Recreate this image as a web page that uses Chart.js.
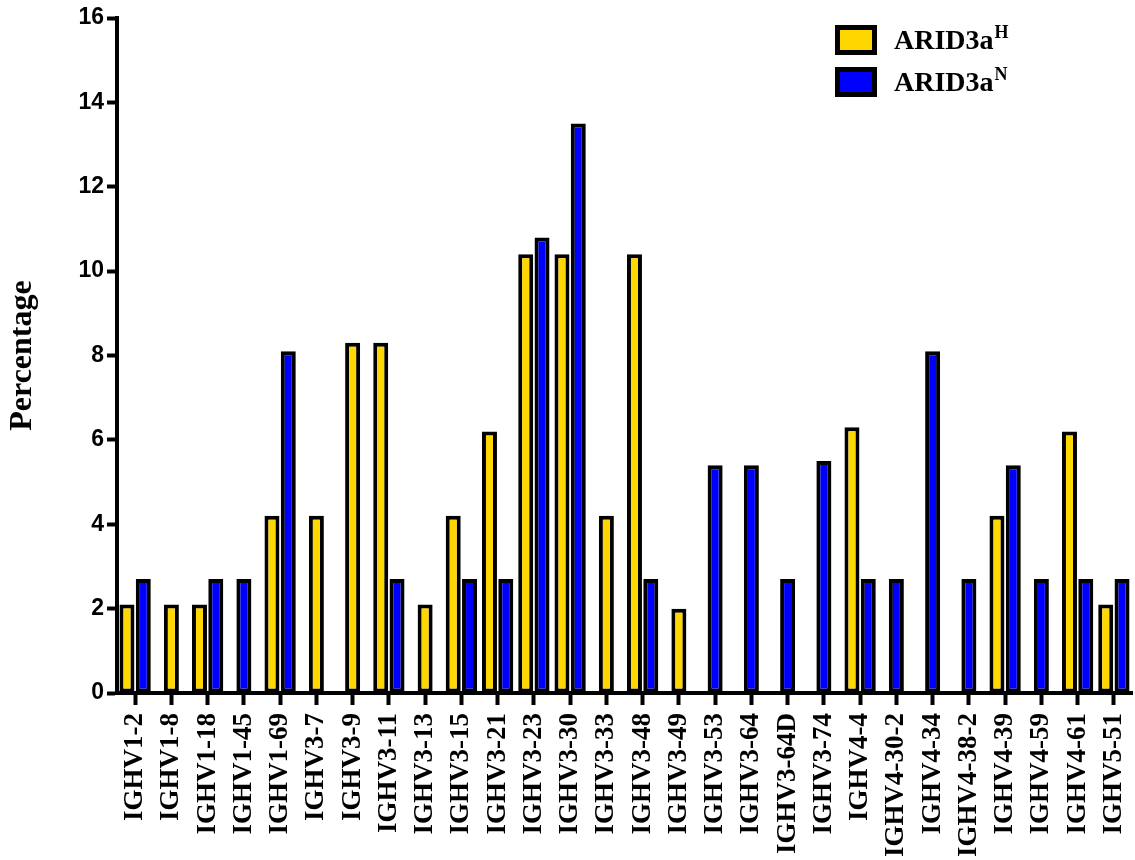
<!DOCTYPE html>
<html>
<head>
<meta charset="utf-8">
<title>IGHV usage</title>
<script src="https://cdn.jsdelivr.net/npm/chart.js@4"></script>
<style>
  html, body { margin: 0; padding: 0; background: #fff; }
  #wrap { width: 1135px; height: 860px; }
</style>
</head>
<body>
<div id="wrap"><canvas id="chart" width="1135" height="860"></canvas></div>
<script>
// gene segments on the x axis
const genes = [
  "IGHV1-2", "IGHV1-8", "IGHV1-18", "IGHV1-45", "IGHV1-69",
  "IGHV3-7", "IGHV3-9", "IGHV3-11", "IGHV3-13", "IGHV3-15",
  "IGHV3-21", "IGHV3-23", "IGHV3-30", "IGHV3-33", "IGHV3-48",
  "IGHV3-49", "IGHV3-53", "IGHV3-64", "IGHV3-64D", "IGHV3-74",
  "IGHV4-4", "IGHV4-30-2", "IGHV4-34", "IGHV4-38-2", "IGHV4-39",
  "IGHV4-59", "IGHV4-61", "IGHV5-51"
];

// null = no bar for that gene
const arid3aH = [
  2.1, 2.1, 2.1, null, 4.2,
  4.2, 8.3, 8.3, 2.1, 4.2,
  6.2, 10.4, 10.4, 4.2, 10.4,
  2.0, null, null, null, null,
  6.3, null, null, null, 4.2,
  null, 6.2, 2.1
];
const arid3aN = [
  2.7, null, 2.7, 2.7, 8.1,
  null, null, 2.7, null, 2.7,
  2.7, 10.8, 13.5, null, 2.7,
  null, 5.4, 5.4, 2.7, 5.5,
  2.7, 2.7, 8.1, 2.7, 5.4,
  2.7, 2.7, 2.7
];

const seriesBase = ["ARID3a", "ARID3a"];
const seriesSup = ["H", "N"];
const yTicks = [0, 2, 4, 6, 8, 10, 12, 14, 16];

const YELLOW = "#FFD700";
const BLUE = "#0000FF";
const SERIF = "'Liberation Serif', 'Times New Roman', serif";

// legend with superscripts, drawn on the canvas
const supLegend = {
  id: "supLegend",
  afterDraw(chart) {
    const ctx = chart.ctx;
    ctx.save();
    chart.data.datasets.forEach((ds, i) => {
      const bx = 835, by = 25 + i * 42, bw = 42, bh = 30;
      ctx.fillStyle = ds.backgroundColor;
      ctx.fillRect(bx, by, bw, bh);
      ctx.lineWidth = 5;
      ctx.strokeStyle = "#000";
      ctx.strokeRect(bx + 2.5, by + 2.5, bw - 5, bh - 5);

      const base = seriesBase[i];
      const baseline = by + 24;
      ctx.fillStyle = "#000";
      ctx.textBaseline = "alphabetic";
      ctx.textAlign = "left";
      ctx.font = "bold 28px " + SERIF;
      ctx.fillText(base, 894, baseline);
      const w = ctx.measureText(base).width;
      ctx.font = "bold 18px " + SERIF;
      ctx.fillText(seriesSup[i], 894 + w + 1, baseline - 11);
    });
    ctx.restore();
  }
};

const ctx = document.getElementById("chart").getContext("2d");
new Chart(ctx, {
  type: "bar",
  data: {
    labels: genes,
    datasets: [
      {
        label: "ARID3aH",
        data: arid3aH,
        backgroundColor: YELLOW,
        borderColor: "#000",
        borderWidth: 4,
        borderSkipped: false,
        skipNull: true,
        maxBarThickness: 15
      },
      {
        label: "ARID3aN",
        data: arid3aN,
        backgroundColor: BLUE,
        borderColor: "#000",
        borderWidth: 4,
        borderSkipped: false,
        skipNull: true,
        maxBarThickness: 15
      }
    ]
  },
  options: {
    responsive: false,
    animation: false,
    maintainAspectRatio: false,
    categoryPercentage: 0.9,
    barPercentage: 0.92,
    layout: {
      padding: { top: 18, right: 3, left: 0, bottom: 0 }
    },
    plugins: {
      legend: { display: false },
      tooltip: { enabled: false }
    },
    scales: {
      x: {
        offset: true,
        border: { display: true, color: "#000", width: 4 },
        grid: {
          offset: false,
          drawOnChartArea: false,
          drawTicks: true,
          tickLength: 12,
          tickWidth: 4,
          tickColor: "#000",
          color: "#000"
        },
        ticks: {
          autoSkip: false,
          minRotation: 90,
          maxRotation: 90,
          padding: 8,
          color: "#000",
          font: { family: SERIF, size: 27, weight: "bold" }
        },
        afterFit(scale) {
          scale.height = 167;
          scale.paddingLeft = 0;
          scale.paddingRight = 0;
        }
      },
      y: {
        min: 0,
        max: 16,
        border: { display: true, color: "#000", width: 4 },
        grid: {
          drawOnChartArea: false,
          drawTicks: true,
          tickLength: 10,
          tickWidth: 4,
          tickColor: "#000",
          color: "#000"
        },
        afterBuildTicks(scale) {
          scale.ticks = yTicks.map(v => ({ value: v }));
        },
        ticks: {
          padding: 3,
          color: "#000",
          font: { family: "'Liberation Sans', Arial, sans-serif", size: 23, weight: "bold" }
        },
        title: {
          display: true,
          text: "Percentage",
          color: "#000",
          padding: { top: 4, bottom: 0 },
          font: { family: SERIF, size: 32, weight: "bold" }
        },
        afterFit(scale) {
          scale.width = 117;
        }
      }
    }
  },
  plugins: [supLegend]
});
</script>
</body>
</html>
